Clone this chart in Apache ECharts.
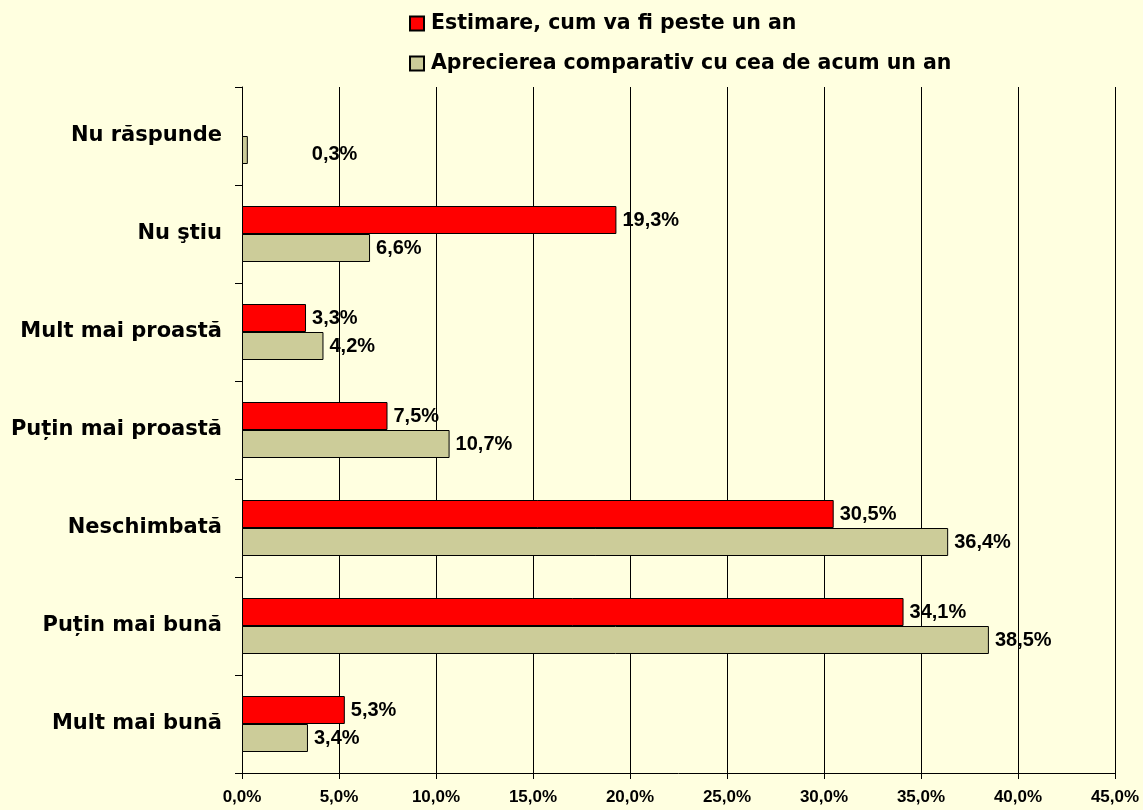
<!DOCTYPE html>
<html><head><meta charset="utf-8">
<script src="https://cdn.jsdelivr.net/npm/echarts@6/dist/echarts.min.js"></script>
<style>html,body{margin:0;padding:0;background:#FFFFE0;}#c{width:1143px;height:810px;}</style>
</head><body><div id="c"></div>
<script>
const categories = ['Mult mai bună','Puțin mai bună','Neschimbată','Puțin mai proastă','Mult mai proastă','Nu ştiu','Nu răspunde'];
const estimare = [5.3, 34.1, 30.5, 7.5, 3.3, 19.3, null];
const apreciere = [3.4, 38.5, 36.4, 10.7, 4.2, 6.6, 0.3];
const xTicks = [0,5,10,15,20,25,30,35,40,45];
const nameEst = 'Estimare, cum va fi peste un an';
const nameApr = 'Aprecierea comparativ cu cea de acum un an';
const fmt = v => v.toFixed(1).replace('.', ',') + '%';
const arial = 'Arial, "Liberation Sans", sans-serif';
const wide = '"DejaVu Sans", Arial, sans-serif';
const lbl = {show:true, position:'right', distance:6, color:'#000', fontWeight:'bold', fontSize:20, fontFamily:arial, formatter:p=>fmt(p.value)};
const aprData = apreciere.map((v,i)=> i===6 ? {value:v, label:{offset:[58,4]}} : v);
const chart = echarts.init(document.getElementById('c'));
chart.setOption({
  backgroundColor:'#FFFFE0',
  animation:false,
  legend:{orient:'vertical', left:409, top:11, padding:0, itemGap:15, itemWidth:14, itemHeight:14,
    data:[nameEst, nameApr],
    textStyle:{fontSize:20.5, fontWeight:'bold', fontFamily:wide, color:'#000', lineHeight:25, padding:[0,0,0,2]},
    icon:'rect'},
  grid:{left:242, right:28, top:87, bottom:37, containLabel:false},
  xAxis:{type:'value', min:0, max:45, interval:5,
    axisLine:{show:true, lineStyle:{color:'#000'}},
    axisTick:{show:true, length:6, lineStyle:{color:'#000'}},
    splitLine:{show:true, lineStyle:{color:'#000', width:1}},
    axisLabel:{formatter:v=>fmt(v), color:'#000', fontWeight:'bold', fontSize:17, fontFamily:arial, margin:16}},
  yAxis:{type:'category', data:categories,
    axisLine:{show:true, lineStyle:{color:'#000'}},
    axisTick:{show:true, length:7, lineStyle:{color:'#000'}},
    axisLabel:{color:'#000', fontWeight:'bold', fontSize:21, fontFamily:wide, margin:20}},
  series:[
    {name:nameEst, type:'bar', data:estimare, barWidth:28, barGap:'0%',
      itemStyle:{color:'#FF0000', borderColor:'#000', borderWidth:1}, label:lbl},
    {name:nameApr, type:'bar', data:aprData, barWidth:28, barGap:'0%',
      itemStyle:{color:'#CCCC99', borderColor:'#000', borderWidth:1}, label:lbl}
  ]
});
</script></body></html>
